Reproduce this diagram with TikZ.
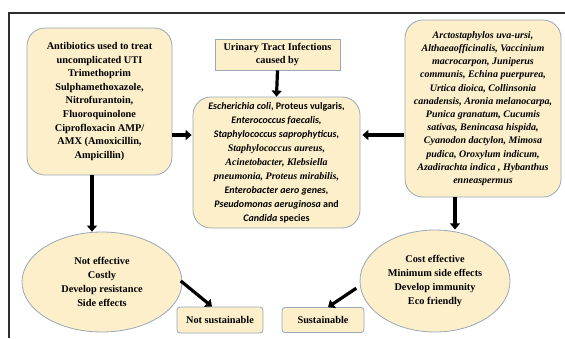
\documentclass[tikz,border=0pt]{standalone}
\usepackage{fontspec}
\setmainfont{Liberation Serif}
\newfontfamily\calib{Carlito}
\usepackage{tikz}
\usetikzlibrary{arrows.meta,shapes.geometric,positioning}
\definecolor{cream}{HTML}{FCEFCA}
\definecolor{slate}{HTML}{98A8B6}
\definecolor{frame}{HTML}{2E2E2E}
\tikzset{
    card/.style={draw=slate, fill=cream, line width=0.8pt, rounded corners=18pt,
        align=center, inner sep=2pt, font=\bfseries\fontsize{10.3}{13.6}\selectfont},
    tag/.style={draw=slate, fill=cream, line width=0.8pt, rounded corners=3pt,
        align=center, font=\bfseries\fontsize{10.3}{12}\selectfont},
    blob/.style={ellipse, draw=slate, fill=cream, line width=0.8pt, align=center,
        inner sep=0pt, font=\bfseries\fontsize{10.3}{14}\selectfont},
    fat/.style={line width=3.2pt, -{Triangle[length=6pt,width=10pt]}}
}

\begin{document}
\begin{tikzpicture}[x=1pt,y=-1pt]
    % Page frame
    \useasboundingbox (0,0) rectangle (565,338);
    \fill[white] (0,0) rectangle (565,338);
    \draw[frame, line width=1.2pt] (9,338) -- (9,13) -- (565,13);

    % Left box: antibiotics
    \node[card, minimum width=145pt, minimum height=147pt] (antibio) at (99.5,101.5)
        {Antibiotics used to treat\\ uncomplicated UTI\\ Trimethoprim\\ Sulphamethoxazole,\\
         Nitrofurantoin,\\ Fluoroquinolone\\ Ciprofloxacin AMP/\\ AMX (Amoxicillin,\\ Ampicillin)};

    % Top box: UTI
    \node[draw=slate, fill=cream, line width=0.8pt, align=center, minimum width=125pt,
        minimum height=31pt, font=\bfseries\fontsize{10.3}{13}\selectfont] (uti) at (277.5,54.5)
        {Urinary Tract Infections\\ caused by};

    % Centre box: pathogens
    \node[card, minimum width=167pt, minimum height=131pt,
        font=\bfseries\fontsize{10}{14}\selectfont] (pathogen) at (276.5,162.5)
        {{\calib\itshape Escherichia coli\upshape, Proteus vulgaris,}\\
         {\calib\itshape Enterococcus faecalis,}\\
         {\calib\itshape Staphylococcus saprophyticus,}\\
         {\itshape Staphylococcus aureus,}\\
         {\itshape Acinetobacter, Klebsiella}\\
         {\itshape pneumonia, Proteus mirabilis,}\\
         {\calib\itshape Enterobacter aero genes,}\\
         {\calib\itshape Pseudomonas aeruginosa \upshape and}\\
         {\calib\itshape Candida \upshape species}};

    % Right box: herbals
    \node[card, minimum width=156pt, minimum height=177pt,
        font=\bfseries\itshape\fontsize{10}{13.2}\selectfont] (herbal) at (483,108.5)
        {Arctostaphylos uva-ursi,\\ Althaeaofficinalis, Vaccinium\\ macrocarpon, Juniperus\\
         communis, Echina puerpurea,\\ Urtica dioica, Collinsonia\\ canadensis, Aronia melanocarpa,\\
         Punica granatum, Cucumis\\ sativas, Benincasa hispida,\\ Cyanodon dactylon, Mimosa\\
         pudica, Oroxylum indicum,\\ Azadirachta indica , Hybanthus\\ enneaspermus};

    % Outcome ellipses
    \node[blob, minimum width=160pt, minimum height=100pt] (noteff) at (102,282)
        {Not effective\\ Costly\\ Develop resistance\\ Side effects};
    \node[blob, minimum width=150pt, minimum height=102pt] (costeff) at (435,281)
        {Cost effective\\ Minimum side effects\\ Develop immunity\\ Eco friendly};

    % Verdict tags
    \node[tag, minimum width=86pt, minimum height=26pt] (notsus) at (220,320) {Not sustainable};
    \node[tag, minimum width=82pt, minimum height=25pt] (sus) at (323,320) {Sustainable};

    % Arrows
    \draw[fat, shorten >=1pt] ([yshift=-33.5pt]antibio.east) -- ([yshift=-33.5pt]antibio.east -| pathogen.west);
    \draw[fat, shorten <=1pt, shorten >=2pt] ([yshift=-26.5pt]herbal.west) -- ([yshift=-26.5pt]herbal.west -| pathogen.east);
    \draw[fat] (uti.south) -- (pathogen.north);
    \draw[fat] ([xshift=-7.5pt]antibio.south) -- ([xshift=-7.5pt]antibio.south |- noteff.north);
    \draw[fat] ([xshift=-28pt]herbal.south) -- ([xshift=-28pt, yshift=-32pt]herbal.south);
    \draw[fat, shorten <=3pt] ([shift={(-4pt,3pt)}]noteff.east) -- ([xshift=-8pt]notsus.north);
    \draw[fat, shorten <=4pt] ([yshift=-5pt]costeff.west) -- ([xshift=5pt]sus.north);
\end{tikzpicture}
\end{document}
